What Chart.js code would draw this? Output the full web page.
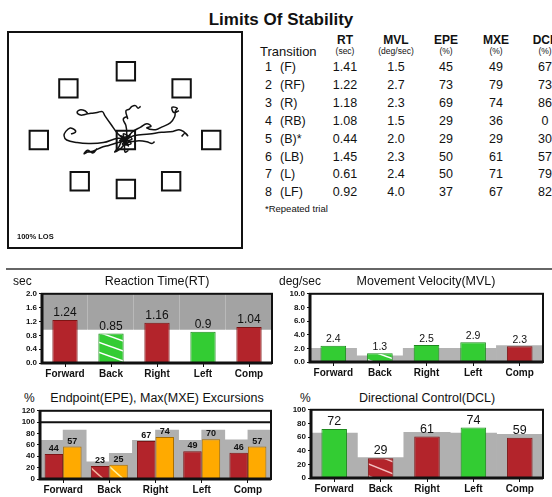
<!DOCTYPE html>
<html>
<head>
<meta charset="utf-8">
<script src="https://cdn.jsdelivr.net/npm/chart.js@4.4.1/dist/chart.umd.min.js"></script>
<style>
  html, body { margin: 0; padding: 0; background: #fff; }
  body { width: 552px; height: 497px; position: relative; overflow: hidden; font-family: "Liberation Sans", Arial, sans-serif; color: #111; }
  .t { position: absolute; white-space: nowrap; line-height: 1; transform: translate(-50%, -50%); }
  .l { position: absolute; white-space: nowrap; line-height: 1; transform: translate(0, -50%); }
  #losBox { position: absolute; left: 7px; top: 31px; width: 236px; height: 218px; border: 2px solid #111; box-sizing: border-box; }
  #losBox canvas { position: absolute; left: 0; top: 0; }
  .sep { position: absolute; left: 6px; top: 268px; width: 546px; height: 2px; background: #666; }
  canvas.bar { position: absolute; }
</style>
</head>
<body>

<div class="t" style="left:281px; top:19px; font-size:17px; font-weight:bold;">Limits Of Stability</div>

<div id="losBox">
  <canvas id="los" width="232" height="214"></canvas>
  <div class="l" style="left:8px; top:204px; font-size:7.5px; font-weight:bold;">100% LOS</div>
</div>

<div id="table"></div>

<div class="sep"></div>

<div class="l" style="left:13px; top:281px; font-size:12px;">sec</div>
<div class="t" style="left:157px; top:281px; font-size:12.5px;">Reaction Time(RT)</div>
<div class="l" style="left:279px; top:281px; font-size:12px;">deg/sec</div>
<div class="t" style="left:426px; top:281px; font-size:12.5px;">Movement Velocity(MVL)</div>
<div class="l" style="left:24px; top:398px; font-size:12px;">%</div>
<div class="t" style="left:157px; top:398px; font-size:12.5px;">Endpoint(EPE), Max(MXE) Excursions</div>
<div class="l" style="left:300px; top:398px; font-size:12px;">%</div>
<div class="t" style="left:427px; top:398px; font-size:12.5px;">Directional Control(DCL)</div>

<canvas class="bar" id="rt" width="276" height="96" style="left:0px; top:287px;"></canvas>
<canvas class="bar" id="mvl" width="276" height="94" style="left:276px; top:287px;"></canvas>
<canvas class="bar" id="epe" width="276" height="92" style="left:0px; top:404px;"></canvas>
<canvas class="bar" id="dcl" width="276" height="92" style="left:276px; top:403px;"></canvas>

<script>
(function () {

// ---------------------------------------------------------------- data

// transition table
var transitions = ['(F)', '(RF)', '(R)', '(RB)', '(B)*', '(LB)', '(L)', '(LF)'];
var tRT  = [1.41, 1.22, 1.18, 1.08, 0.44, 1.45, 0.61, 0.92];
var tMVL = [1.5, 2.7, 2.3, 1.5, 2.0, 2.3, 2.4, 4.0];
var tEPE = [45, 73, 69, 29, 29, 50, 50, 37];
var tMXE = [49, 79, 74, 36, 29, 61, 71, 67];
var tDCL = [67, 73, 86, 0, 30, 57, 79, 82];
var tHeads = ['RT', 'MVL', 'EPE', 'MXE', 'DCL'];
var tUnits = ['(sec)', '(deg/sec)', '(%)', '(%)', '(%)'];

// summary charts
var directions = ['Forward', 'Back', 'Right', 'Left', 'Comp'];
var repeated   = [false, true, false, false, false];

var rtValues  = [1.24, 0.85, 1.16, 0.9, 1.04];
var rtNormLow = [0.96, 0.96, 0.96, 0.96, 0.96];
var rtPass    = [false, true, false, true, false];

var mvlValues = [2.4, 1.3, 2.5, 2.9, 2.3];
var mvlNorm   = [2.0, 0.9, 2.0, 2.0, 2.4];
var mvlPass   = [true, true, true, true, false];

var epeValues = [44, 23, 67, 49, 46];
var mxeValues = [57, 25, 74, 70, 57];
var epeNorm   = [68, 30, 68, 68, 69];
var mxeNorm   = [86, 45, 86, 86, 86];

var dclValues = [72, 29, 61, 74, 59];
var dclNorm   = [66, 30, 67, 66, 64];
var dclPass   = [true, false, false, true, false];

// LOS trace (percent of LOS, centre = 0,0)
var losTargets = [
  {x: 0, y: 80}, {x: 64, y: 60}, {x: 98, y: 0}, {x: 52, y: -48},
  {x: 0, y: -57}, {x: -53, y: -48}, {x: -100, y: 0}, {x: -66, y: 60}, {x: 0, y: 0}
];
var traceF  = [[0,0],[1,8],[0,17],[-3,24],[1,27],[2,25],[0,34],[4,36],[7,39],[11,40],[14,37],[17,39]];
var traceRF = [[0,0],[7,9],[17,15],[24,19],[29,16],[24,14],[34,12],[41,15],[51,20],[56,27],[57,34],[59,37],[53,38],[55,32],[61,34]];
var traceR  = [[0,0],[9,5],[27,7],[41,9],[54,10],[61,12],[66,10],[71,5],[68,8],[64,4]];
var traceRB = [[0,0],[5,-2],[15,-1],[24,-2],[30,-4],[33,-2]];
var traceB  = [[0,0],[-4,0],[-8,-8],[-13,-14],[-6,-10],[-2,-6],[-1,-14],[3,-12]];
var traceLB = [[0,0],[-9,-3],[-19,-6],[-29,-9],[-38,-13],[-44,-14],[-48,-16],[-44,-12],[-38,-15],[-33,-10]];
var traceL  = [[0,0],[-9,2],[-26,-3],[-43,-4],[-56,-3],[-68,0],[-71,5],[-69,10],[-64,14],[-59,12],[-58,9],[-63,7]];
var traceLF = [[0,0],[-9,7],[-17,18],[-24,28],[-27,33],[-33,32],[-40,31],[-46,30],[-52,29],[-56,32],[-53,35],[-47,34],[-44,31]];
var traceC  = [[0,0],[5,6],[-4,-5],[6,-4],[-6,5],[3,-7],[-3,7],[7,1],[-7,-1],[2,4],[-2,-4],[4,-2],[0,0]];

// ---------------------------------------------------------------- colours

var RED = '#b3242b', RED_B = '#7d1414';
var GREEN = '#33cc33', GREEN_B = '#1d8a1d';
var ORANGE = '#ffaa00', ORANGE_B = '#a86e00';

function hatch(fill, line, w, h) {
    var c = document.createElement('canvas');
    c.width = w; c.height = h;
    var g = c.getContext('2d');
    g.fillStyle = fill; g.fillRect(0, 0, w, h);
    g.strokeStyle = line; g.lineWidth = 1.5;
    for (var dx = -1; dx <= 1; dx++) {
        for (var dy = -1; dy <= 1; dy++) {
            g.beginPath(); g.moveTo(dx * w, dy * h); g.lineTo(dx * w + w, dy * h + h); g.stroke();
        }
    }
    return g.createPattern(c, 'repeat');
}

function passColors(pass, hatchGreen, hatchRed) {
    return pass.map(function (p, i) {
        if (repeated[i]) return p ? hatchGreen : hatchRed;
        return p ? GREEN : RED;
    });
}
function passBorders(pass) {
    return pass.map(function (p) { return p ? GREEN_B : RED_B; });
}

// ---------------------------------------------------------------- table

var table = document.getElementById('table');
function put(cls, x, y, size, weight, text) {
    var d = document.createElement('div');
    d.className = cls;
    d.style.left = x + 'px'; d.style.top = y + 'px';
    d.style.fontSize = size + 'px';
    if (weight) d.style.fontWeight = weight;
    d.textContent = text;
    table.appendChild(d);
}
var colX = [345, 396, 446, 496, 545];
put('l', 260, 51, 13, null, 'Transition');
tHeads.forEach(function (h, i) {
    put('t', colX[i], 40, 12, 'bold', h);
    put('t', colX[i], 51, 8.5, null, tUnits[i]);
});
transitions.forEach(function (tr, r) {
    var y = 67 + r * 17.9;
    put('l', 265, y, 12.5, null, String(r + 1));
    put('l', 280, y, 12.5, null, tr);
    put('t', colX[0], y, 12.5, null, tRT[r].toFixed(2));
    put('t', colX[1], y, 12.5, null, tMVL[r].toFixed(1));
    put('t', colX[2], y, 12.5, null, String(tEPE[r]));
    put('t', colX[3], y, 12.5, null, String(tMXE[r]));
    put('t', colX[4], y, 12.5, null, String(tDCL[r]));
});
put('l', 265, 209, 9.5, null, '*Repeated trial');

// ---------------------------------------------------------------- LOS trace

Chart.defaults.font.family = '"Liberation Sans", Arial, sans-serif';
Chart.defaults.color = '#111';

function pts(arr) { return arr.map(function (p) { return {x: p[0], y: p[1]}; }); }
function traceSet(arr) {
    return { data: pts(arr), showLine: true, borderColor: '#111', borderWidth: 1.5,
             pointRadius: 0, tension: 0.4, order: 1 };
}

new Chart(document.getElementById('los').getContext('2d'), {
    type: 'scatter',
    data: {
        datasets: [
            { data: losTargets, pointStyle: 'rect', pointRadius: 13, pointBorderWidth: 2,
              pointBorderColor: '#111', pointBackgroundColor: 'rgba(255,255,255,0)', order: 2 },
            traceSet(traceF), traceSet(traceRF), traceSet(traceR), traceSet(traceRB),
            traceSet(traceB), traceSet(traceLB), traceSet(traceL), traceSet(traceLF),
            traceSet(traceC)
        ]
    },
    options: {
        responsive: false, animation: false,
        layout: { padding: 0 },
        plugins: { legend: { display: false }, tooltip: { enabled: false } },
        scales: {
            x: { display: false, min: -117, max: 115 },
            y: { display: false, min: -107, max: 107 }
        }
    }
});

// ---------------------------------------------------------------- bar charts

var frame = {
    id: 'frame',
    afterDatasetsDraw: function (chart, args, o) {
        var a = chart.chartArea, ctx = chart.ctx;
        ctx.save();
        ctx.strokeStyle = '#111';
        ctx.lineWidth = 2;
        ctx.strokeRect(a.left, a.top, a.right - a.left, a.bottom - a.top);
        ctx.lineWidth = 3;
        ctx.beginPath();
        ctx.moveTo(a.left, a.top); ctx.lineTo(a.left, a.bottom); ctx.lineTo(a.right, a.bottom);
        ctx.stroke();
        if (o.refLine != null) {
            var y = chart.scales.y.getPixelForValue(o.refLine);
            ctx.lineWidth = 2;
            ctx.beginPath(); ctx.moveTo(a.left, y); ctx.lineTo(a.right, y); ctx.stroke();
        }
        ctx.restore();
    }
};

var valueLabels = {
    id: 'valueLabels',
    afterDatasetsDraw: function (chart, args, o) {
        var ctx = chart.ctx;
        chart.data.datasets.forEach(function (ds, i) {
            if (!ds.showValue) return;
            var meta = chart.getDatasetMeta(i);
            meta.data.forEach(function (bar, j) {
                ctx.save();
                ctx.font = o.font;
                ctx.fillStyle = '#111';
                ctx.textAlign = 'center';
                ctx.textBaseline = 'bottom';
                ctx.fillText(String(ds.data[j]), bar.x, bar.y - 1);
                ctx.restore();
            });
        });
    }
};

// grey normative bars share a stack slot with the measured bars, so they sit behind them
function barChart(id, o) {
    return new Chart(document.getElementById(id).getContext('2d'), {
        type: 'bar',
        data: { labels: directions, datasets: o.datasets },
        options: {
            responsive: false, animation: false,
            layout: { padding: { top: o.padTop, right: o.padRight, left: 0, bottom: 0 } },
            plugins: {
                legend: { display: false }, tooltip: { enabled: false },
                frame: { refLine: o.refLine },
                valueLabels: { font: o.valueFont }
            },
            scales: {
                x: {
                    offset: true,
                    grid: { offset: false, drawOnChartArea: false, drawTicks: true, tickLength: 4, color: '#111' },
                    border: { display: false },
                    ticks: { font: { size: 10, weight: 'bold' }, color: '#111', padding: 1, maxRotation: 0 },
                    afterFit: function (s) { s.height = o.xHeight; }
                },
                y: {
                    min: 0, max: o.max, stacked: false,
                    ticks: { stepSize: o.step, autoSkip: false, font: { size: 8, weight: 'bold' }, color: '#111',
                             padding: 2, callback: o.tickFmt },
                    grid: { drawOnChartArea: false, tickLength: 3, color: '#111' },
                    border: { display: false },
                    afterFit: function (s) { s.width = o.yWidth; }
                }
            }
        },
        plugins: [frame, valueLabels]
    });
}

function fixed1(v) { return Number(v).toFixed(1); }

// Reaction time
barChart('rt', {
    padTop: 6, padRight: 4, xHeight: 20, yWidth: 42, max: 2, step: 0.4, tickFmt: fixed1,
    valueFont: '12px "Liberation Sans", Arial, sans-serif',
    datasets: [
        { data: rtValues, showValue: true, stack: 'a',
          backgroundColor: passColors(rtPass, hatch(GREEN, '#fff', 28, 10), hatch(RED, '#f4c0c0', 28, 10)),
          borderColor: passBorders(rtPass), borderWidth: 1,
          categoryPercentage: 0.55, barPercentage: 1, order: 1 },
        { data: rtNormLow.map(function (v) { return [v, 2]; }), stack: 'a',
          backgroundColor: '#a3a3a3', borderColor: '#c4c4c4',
          borderWidth: { top: 0, bottom: 0, left: 0, right: 1 }, borderSkipped: false,
          categoryPercentage: 1, barPercentage: 1, order: 2 }
    ]
});

// Movement velocity
barChart('mvl', {
    padTop: 6, padRight: 9, xHeight: 19, yWidth: 34, max: 10, step: 2, tickFmt: fixed1,
    valueFont: '10.5px "Liberation Sans", Arial, sans-serif',
    datasets: [
        { data: mvlValues, showValue: true, stack: 'a',
          backgroundColor: passColors(mvlPass, hatch(GREEN, '#fff', 28, 10), hatch(RED, '#f4c0c0', 28, 10)),
          borderColor: passBorders(mvlPass), borderWidth: 1,
          categoryPercentage: 0.55, barPercentage: 1, order: 1 },
        { data: mvlNorm, stack: 'a', backgroundColor: '#b3b3b3', borderWidth: 0,
          categoryPercentage: 1, barPercentage: 1, order: 2 }
    ]
});

// Endpoint / max excursion
barChart('epe', {
    padTop: 6, padRight: 5, xHeight: 17, yWidth: 40, max: 120, step: 20, refLine: 100,
    tickFmt: function (v) { return String(v); },
    valueFont: 'bold 9px "Liberation Sans", Arial, sans-serif',
    datasets: [
        { data: epeValues, showValue: true, stack: 'e',
          backgroundColor: repeated.map(function (r) { return r ? hatch(RED, '#f2b8a0', 20, 18) : RED; }),
          borderColor: RED_B, borderWidth: 1, categoryPercentage: 0.8, barPercentage: 1, order: 1 },
        { data: mxeValues, showValue: true, stack: 'm',
          backgroundColor: repeated.map(function (r) { return r ? hatch(ORANGE, '#fff2a0', 20, 18) : ORANGE; }),
          borderColor: ORANGE_B, borderWidth: 1, categoryPercentage: 0.8, barPercentage: 1, order: 1 },
        { data: epeNorm, stack: 'e', backgroundColor: '#b0b0b0', borderWidth: 0,
          categoryPercentage: 1, barPercentage: 1, order: 2 },
        { data: mxeNorm, stack: 'm', backgroundColor: '#b0b0b0', borderWidth: 0,
          categoryPercentage: 1, barPercentage: 1, order: 2 }
    ]
});

// Directional control
barChart('dcl', {
    padTop: 6, padRight: 9, xHeight: 17, yWidth: 35, max: 100, step: 20,
    tickFmt: function (v) { return String(v); },
    valueFont: '12.5px "Liberation Sans", Arial, sans-serif',
    datasets: [
        { data: dclValues, showValue: true, stack: 'a',
          backgroundColor: passColors(dclPass, hatch(GREEN, '#fff', 30, 12), hatch(RED, '#f4c0c0', 30, 12)),
          borderColor: passBorders(dclPass), borderWidth: 1,
          categoryPercentage: 0.55, barPercentage: 1, order: 1 },
        { data: dclNorm, stack: 'a', backgroundColor: '#b0b0b0', borderWidth: 0,
          categoryPercentage: 1, barPercentage: 1, order: 2 }
    ]
});

})();
</script>
</body>
</html>
